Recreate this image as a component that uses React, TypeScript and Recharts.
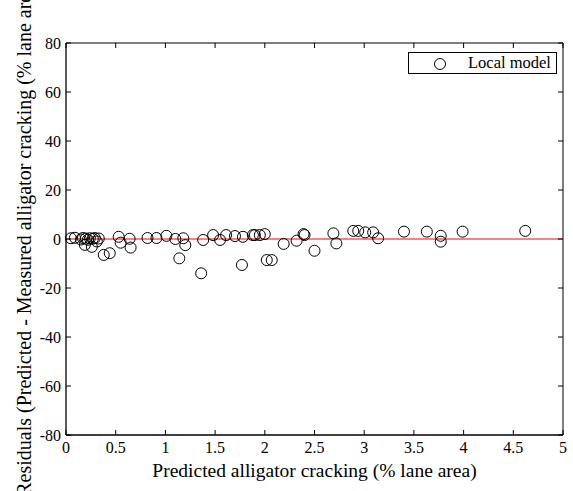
import React from 'react';
import { ScatterChart, Scatter, XAxis, YAxis, ReferenceLine, Legend } from 'recharts';

// predicted cracking (% lane area) and residual (predicted - measured) per section
const predicted = [
  0.05, 0.09, 0.15, 0.17, 0.19, 0.2, 0.22, 0.24, 0.26, 0.27, 0.29, 0.31, 0.33,
  0.38, 0.44, 0.53, 0.55, 0.64, 0.65, 0.82, 0.91, 1.01, 1.1, 1.18, 1.2, 1.14,
  1.38, 1.36, 1.48, 1.55, 1.61, 1.7, 1.78, 1.77, 1.88, 1.9, 1.95, 2.0, 2.02,
  2.07, 2.19, 2.32, 2.39, 2.4, 2.5, 2.69, 2.72, 2.89, 2.94, 3.01, 3.09, 3.14,
  3.4, 3.63, 3.77, 3.77, 3.99, 4.62,
];
const residuals = [
  0.3, 0.5, -0.2, 0.4, -2.4, 0.2, -0.3, 0.3, -3.2, 0.1, 0.4, -1.0, 0.2,
  -6.5, -5.8, 0.9, -1.5, 0.1, -3.5, 0.4, 0.4, 1.3, 0.0, 0.3, -2.5, -7.9,
  -0.4, -14.0, 1.6, -0.4, 1.6, 1.2, 0.9, -10.6, 1.6, 1.6, 1.6, 2.0, -8.6,
  -8.6, -2.0, -0.7, 2.0, 1.6, -4.8, 2.3, -1.8, 3.3, 3.3, 2.7, 2.7, 0.3,
  3.0, 3.0, 1.3, -1.1, 3.0, 3.3,
];
const xTicks = [0, 0.5, 1, 1.5, 2, 2.5, 3, 3.5, 4, 4.5, 5];
const yTicks = [-80, -60, -40, -20, 0, 20, 40, 60, 80];

const points = predicted.map((x, i) => ({ x, y: residuals[i] }));

const W = 573;
const H = 491;
const PLOT = { left: 66, right: 563, top: 43, bottom: 435 };
const TICK = 5;
const serif = { fontFamily: 'Liberation Serif, DejaVu Serif, Times New Roman, serif' };

// inward ticks on bottom and top edges
const XTick = (props: any) => {
  const { x, payload } = props;
  return (
    <g>
      <line x1={x} x2={x} y1={PLOT.bottom} y2={PLOT.bottom - TICK} stroke="#000" />
      <line x1={x} x2={x} y1={PLOT.top} y2={PLOT.top + TICK} stroke="#000" />
      <text x={x} y={453} textAnchor="middle" fontSize={16} style={serif} fill="#000">
        {payload.value}
      </text>
    </g>
  );
};

// inward ticks on left and right edges
const YTick = (props: any) => {
  const { y, payload } = props;
  return (
    <g>
      <line x1={PLOT.left} x2={PLOT.left + TICK} y1={y} y2={y} stroke="#000" />
      <line x1={PLOT.right} x2={PLOT.right - TICK} y1={y} y2={y} stroke="#000" />
      <text x={61} y={y} dy="0.35em" textAnchor="end" fontSize={16} style={serif} fill="#000">
        {payload.value}
      </text>
    </g>
  );
};

const xLabel = () => (
  <text x={(PLOT.left + PLOT.right) / 2} y={477} textAnchor="middle" fontSize={19.5} style={serif} fill="#000">
    Predicted alligator cracking (% lane area)
  </text>
);

const yLabel = () => (
  <text
    x={31}
    y={237}
    transform="rotate(-90, 31, 237)"
    textAnchor="middle"
    fontSize={20}
    style={serif}
    fill="#000"
  >
    Residuals (Predicted - Measured alligator cracking (% lane area)
  </text>
);

const renderLegend = () => (
  <div
    style={{
      ...serif,
      boxSizing: 'border-box',
      width: 149,
      height: 22,
      border: '1px solid #000',
      background: '#fff',
      position: 'relative',
      fontSize: 16.5,
      color: '#000',
    }}
  >
    <svg width={20} height={20} style={{ position: 'absolute', left: 21, top: 1 }}>
      <circle cx={10} cy={10} r={5.5} fill="none" stroke="#000" />
    </svg>
    <span style={{ position: 'absolute', left: 59, top: 0, lineHeight: '20px', whiteSpace: 'nowrap' }}>
      Local model
    </span>
  </div>
);

const ring = (p: any) => <circle cx={p.cx} cy={p.cy} r={5.5} fill="none" stroke="#000" strokeWidth={1} />;

export default function App() {
  return (
    <div style={{ position: 'absolute', left: 0, top: 0, width: W, height: H, background: '#fff' }}>
      <ScatterChart
        width={W}
        height={H}
        margin={{ top: PLOT.top, right: W - PLOT.right, bottom: 26, left: 0 }}
      >
        <XAxis
          dataKey="x"
          type="number"
          domain={[0, 5]}
          ticks={xTicks}
          interval={0}
          height={30}
          axisLine={{ stroke: '#000', strokeWidth: 1.3 }}
          tickLine={false}
          tick={XTick}
          label={xLabel}
        />
        <YAxis
          dataKey="y"
          type="number"
          domain={[-80, 80]}
          ticks={yTicks}
          interval={0}
          width={PLOT.left}
          axisLine={{ stroke: '#000', strokeWidth: 1.3 }}
          tickLine={false}
          tick={YTick}
          label={yLabel}
        />
        <ReferenceLine y={80} stroke="#000" strokeWidth={1} ifOverflow="visible" />
        <ReferenceLine x={5} stroke="#000" strokeWidth={1} ifOverflow="visible" />
        <Scatter data={points} shape={ring} isAnimationActive={false} name="Local model" />
        <ReferenceLine y={0} stroke="#ff0000" strokeWidth={1} />
        <Legend
          layout="vertical"
          align="center"
          verticalAlign="middle"
          wrapperStyle={{ left: 408, top: 52, width: 149, height: 22 }}
          content={renderLegend}
        />
      </ScatterChart>
    </div>
  );
}
